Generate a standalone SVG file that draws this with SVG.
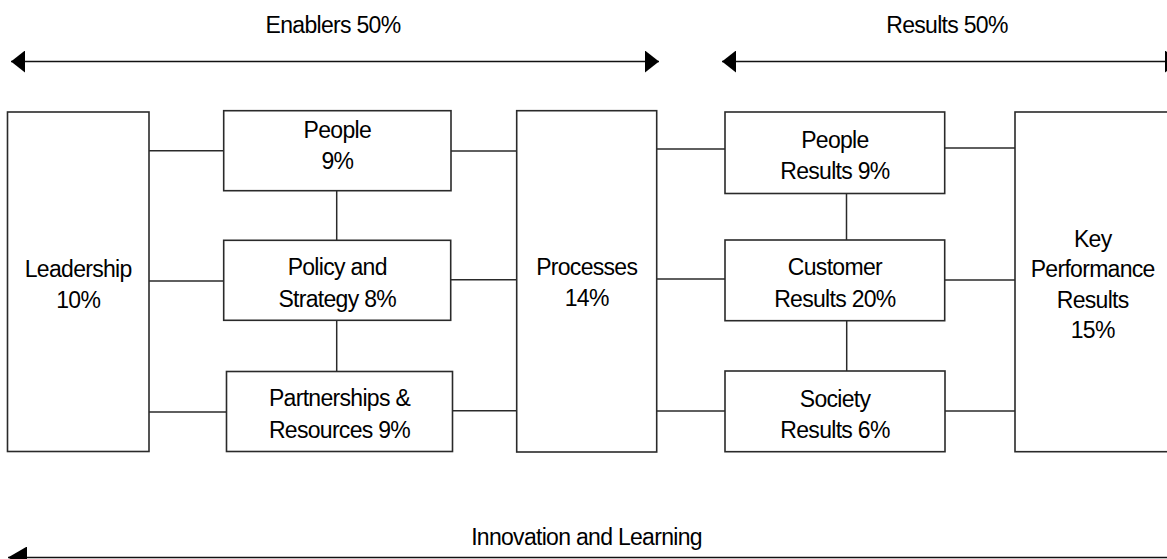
<svg xmlns="http://www.w3.org/2000/svg" width="1167" height="559" viewBox="0 0 1167 559">
  <style>
    .box { fill: #ffffff; stroke: #2a2a2a; stroke-width: 1.6; }
    .link { stroke: #2a2a2a; stroke-width: 1.5; fill: none; }
    .axis { stroke: #111111; stroke-width: 1.6; fill: none; }
    text { font-family: "Liberation Sans", Arial, sans-serif; font-size: 23px; letter-spacing: -0.7px; fill: #000000; text-anchor: middle; }
  </style>
  <defs>
    <marker id="head" viewBox="0 0 14 22" refX="14" refY="11" markerWidth="14" markerHeight="22" markerUnits="userSpaceOnUse" orient="auto-start-reverse">
      <path d="M0,0 L14,11 L0,22 Z" fill="#000000"/>
    </marker>
    <marker id="headWide" viewBox="0 0 19 22" refX="19" refY="11" markerWidth="19" markerHeight="22" markerUnits="userSpaceOnUse" orient="auto-start-reverse">
      <path d="M0,0 L19,11 L0,22 Z" fill="#000000"/>
    </marker>
  </defs>

  <rect width="1167" height="559" fill="#ffffff"/>

  <!-- weighting axes -->
  <g id="axes">
    <line class="axis" x1="11" y1="61.5" x2="659" y2="61.5" marker-start="url(#head)" marker-end="url(#head)"/>
    <text x="333" y="33.3">Enablers 50%</text>
    <line class="axis" x1="722" y1="61.5" x2="1179" y2="61.5" marker-start="url(#head)" marker-end="url(#head)"/>
    <text x="947" y="33.3">Results 50%</text>
    <line class="axis" x1="8" y1="557.5" x2="1167" y2="557.5" marker-start="url(#headWide)"/>
    <text x="586.5" y="545">Innovation and Learning</text>
  </g>

  <!-- connectors -->
  <g id="connectors">
    <line class="link" x1="149" y1="150.7" x2="223.7" y2="150.7"/>
    <line class="link" x1="149" y1="281" x2="223.7" y2="281"/>
    <line class="link" x1="149" y1="412" x2="226.5" y2="412"/>
    <line class="link" x1="451" y1="151" x2="516.7" y2="151"/>
    <line class="link" x1="450.7" y1="279.7" x2="516.7" y2="279.7"/>
    <line class="link" x1="452.5" y1="410.7" x2="516.7" y2="410.7"/>
    <line class="link" x1="336.7" y1="190.7" x2="336.7" y2="240.3"/>
    <line class="link" x1="336.7" y1="320.3" x2="336.7" y2="371.5"/>
    <line class="link" x1="656.7" y1="149" x2="725" y2="149"/>
    <line class="link" x1="656.7" y1="279" x2="725" y2="279"/>
    <line class="link" x1="656.7" y1="411" x2="725" y2="411"/>
    <line class="link" x1="944.7" y1="148" x2="1015" y2="148"/>
    <line class="link" x1="944.7" y1="280" x2="1015" y2="280"/>
    <line class="link" x1="945" y1="411" x2="1015" y2="411"/>
    <line class="link" x1="846.5" y1="193.5" x2="846.5" y2="240"/>
    <line class="link" x1="846.7" y1="320.7" x2="846.7" y2="371"/>
  </g>

  <!-- enablers -->
  <g id="leadership">
    <rect class="box" x="7.5" y="112" width="141.5" height="339.5"/>
    <text x="78.2" y="276.7">Leadership</text>
    <text x="78.2" y="308.3">10%</text>
  </g>
  <g id="people">
    <rect class="box" x="223.7" y="110.7" width="227.3" height="80"/>
    <text x="337.3" y="138.3">People</text>
    <text x="337.3" y="169.3">9%</text>
  </g>
  <g id="policy-strategy">
    <rect class="box" x="223.7" y="240.3" width="227" height="80"/>
    <text x="337.2" y="275">Policy and</text>
    <text x="337.2" y="306.7">Strategy 8%</text>
  </g>
  <g id="partnerships-resources">
    <rect class="box" x="226.5" y="371.5" width="226" height="80"/>
    <text x="339.5" y="406">Partnerships &amp;</text>
    <text x="339.5" y="437.7">Resources 9%</text>
  </g>
  <g id="processes">
    <rect class="box" x="516.7" y="110.7" width="140" height="341.3"/>
    <text x="586.7" y="275">Processes</text>
    <text x="586.7" y="306">14%</text>
  </g>

  <!-- results -->
  <g id="people-results">
    <rect class="box" x="725" y="112" width="219.7" height="81.5"/>
    <text x="834.9" y="148.3">People</text>
    <text x="834.9" y="178.5">Results 9%</text>
  </g>
  <g id="customer-results">
    <rect class="box" x="725" y="240" width="219.7" height="80.7"/>
    <text x="834.9" y="275">Customer</text>
    <text x="834.9" y="306.7">Results 20%</text>
  </g>
  <g id="society-results">
    <rect class="box" x="725" y="371" width="220" height="80.7"/>
    <text x="835" y="406.7">Society</text>
    <text x="835" y="437.7">Results 6%</text>
  </g>
  <g id="key-performance-results">
    <rect class="box" x="1015" y="112" width="155" height="339.7"/>
    <text x="1092.7" y="246.7">Key</text>
    <text x="1092.7" y="276.7">Performance</text>
    <text x="1092.7" y="308.3">Results</text>
    <text x="1092.7" y="337.7">15%</text>
  </g>
</svg>
